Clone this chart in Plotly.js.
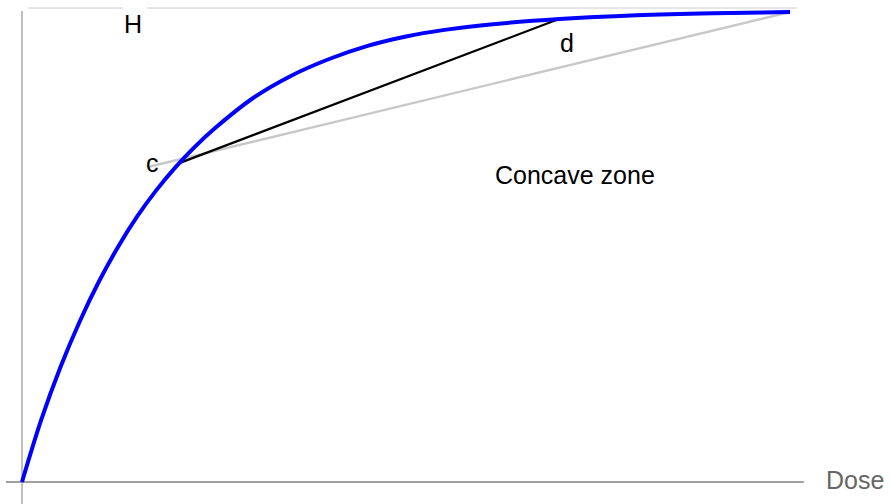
<!DOCTYPE html>
<html>
<head>
<meta charset="utf-8">
<script src="https://cdn.plot.ly/plotly-3.0.1.min.js"></script>
<style>html,body{margin:0;padding:0;background:#fff;}#chart{width:891px;height:504px;}</style>
</head>
<body>
<div id="chart"></div>
<script>
// Response curve H vs Dose (Dose 0..100, H 0..100)
var doseValues = [0, 2.5, 5, 7.5, 10, 12.5, 15, 17.5, 20, 22.5, 25, 30, 35, 40, 45, 50, 55, 60, 70, 80, 90, 100];
var hValues    = [0, 13.2, 24.4, 34.1, 42.6, 50.0, 56.5, 62.1, 67.0, 71.3, 75.1, 81.6, 86.4, 90.0, 92.8, 94.8, 96.2, 97.2, 98.5, 99.3, 99.75, 100];

// Chord c -> d (black) and the long chord to the end point (grey)
var chordCDx = [20.57, 69.66];
var chordCDy = [67.9, 98.35];
var chordLongX = [16.41, 100];
var chordLongY = [67.02, 100];

// Labels
var labelTexts = ["H", "c", "d", "Concave zone"];
var labelX = [14.45, 17.0, 70.9, 72.0];
var labelY = [97.38, 67.9, 93.34, 65.26];
var axisLabel = "Dose";

var traces = [
  {x: chordLongX, y: chordLongY, mode: "lines", line: {color: "#c8c8c8", width: 2.4}, hoverinfo: "skip"},
  {x: chordCDx, y: chordCDy, mode: "lines", line: {color: "#000000", width: 2.2}, hoverinfo: "skip"},
  {x: doseValues, y: hValues, mode: "lines", line: {color: "#0000ff", width: 4, shape: "spline", smoothing: 1}, hoverinfo: "skip"}
];

var annotations = labelTexts.map(function (t, i) {
  return {x: labelX[i], y: labelY[i], xref: "x", yref: "y", text: t, showarrow: false,
          xanchor: "center", yanchor: "middle",
          font: {family: "Arial, 'Liberation Sans', sans-serif", size: 25, color: "#000000"}};
});
annotations.push({x: 108.46, y: 0.36, xref: "x", yref: "y", text: axisLabel, showarrow: false,
  xanchor: "center", yanchor: "middle",
  font: {family: "Arial, 'Liberation Sans', sans-serif", size: 25, color: "#666666"}});

var shapes = [
  // top gridline (with gap around H)
  {type: "line", xref: "x", yref: "y", x0: 0.78, x1: 13.15, y0: 100.85, y1: 100.85, line: {color: "#cccccc", width: 1}, layer: "below"},
  {type: "line", xref: "x", yref: "y", x0: 16.28, x1: 100.9, y0: 100.85, y1: 100.85, line: {color: "#cccccc", width: 1}, layer: "below"},
  // vertical axis
  {type: "line", xref: "x", yref: "y", x0: 0, x1: 0, y0: -5, y1: 100.2, line: {color: "#aaaaaa", width: 1.5}, layer: "below"},
  // horizontal axis
  {type: "line", xref: "x", yref: "y", x0: -2.08, x1: 101.8, y0: 0, y1: 0, line: {color: "#808080", width: 1.5}, layer: "below"}
];

var layout = {
  width: 891, height: 504,
  margin: {l: 0, r: 0, t: 0, b: 0, pad: 0},
  paper_bgcolor: "#ffffff", plot_bgcolor: "#ffffff",
  showlegend: false,
  xaxis: {range: [-2.865, 113.15], visible: false, fixedrange: true},
  yaxis: {range: [-4.681, 102.553], visible: false, fixedrange: true},
  annotations: annotations,
  shapes: shapes
};

Plotly.newPlot("chart", traces, layout, {staticPlot: true, displayModeBar: false});
</script>
</body>
</html>
